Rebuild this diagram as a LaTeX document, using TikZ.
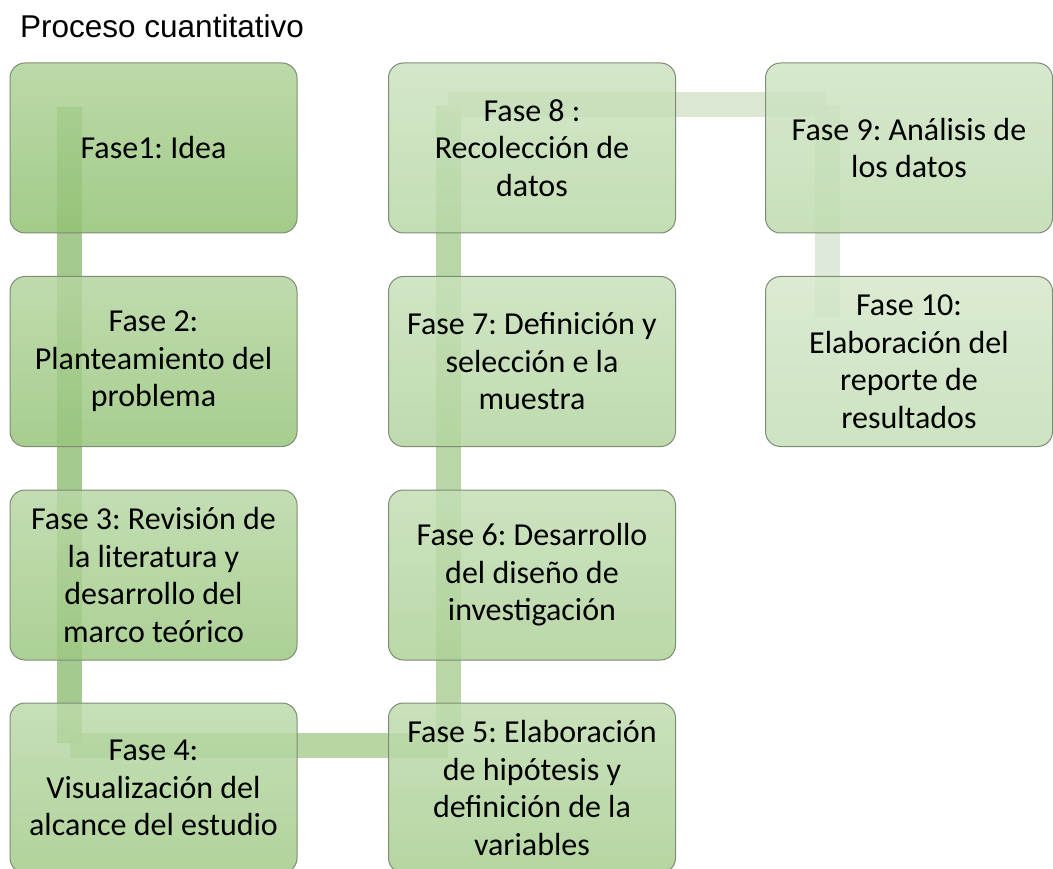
\documentclass[tikz,border=0pt]{standalone}
\usepackage{fontspec}
\setmainfont{Carlito}
\newfontfamily\titlefont{Liberation Sans}
\usetikzlibrary{calc,backgrounds}
\frenchspacing

\definecolor{faseA}{HTML}{92C274}
\definecolor{faseZ}{HTML}{C4DEB6}
\definecolor{borde}{HTML}{7E8C76}
\definecolor{barraA}{HTML}{7EB35F}
\definecolor{barraB}{HTML}{98C47E}
\definecolor{barraC}{HTML}{9BC581}
\definecolor{barraD}{HTML}{CCDDC0}
\definecolor{barraE}{HTML}{D1E0CA}

\tikzset{
  fase/.style={draw=borde, line width=1pt, rounded corners=15pt,
    minimum width=287pt, minimum height=170pt, inner sep=0pt, align=center,
    fill opacity=0.85, text opacity=1, font=\fontsize{32}{37.5}\selectfont,
    top color=#1!72!white, bottom color=#1},
  barra/.style={line width=25pt, opacity=0.7, draw=#1}
}

\begin{document}
\begin{tikzpicture}[x=1pt,y=-1pt]
    \clip (0,0) rectangle (1053,869);
    \node[anchor=base west, inner sep=0pt, font=\titlefont\fontsize{31.5}{36}\selectfont] (titulo) at (20,38) {Proceso cuantitativo};
    % fases
    \foreach \n/\px/\py/\txt in {
        1/153.5/148/{Fase1: Idea},
        2/153.5/361.5/{Fase 2:\\Planteamiento del\\problema},
        3/153.5/575/{Fase 3: Revisión de\\la literatura y\\desarrollo del\\marco teórico},
        4/153.5/788/{Fase 4:\\Visualización del\\alcance del estudio},
        5/532/788/{Fase 5: Elaboración\\de hipótesis y\\definición de la\\variables},
        6/532/575/{Fase 6: Desarrollo\\del diseño de\\investigación},
        7/532/361.5/{Fase 7: Definición y\\selección e la\\muestra},
        8/532/148/{Fase 8 :\\Recolección de\\datos},
        9/909/148/{Fase 9: Análisis de\\los datos},
        10/909/361.5/{Fase 10:\\Elaboración del\\reporte de\\resultados}} {
        \pgfmathtruncatemacro\pct{(\n-1)*100/9}
        \node[fase=faseZ!\pct!faseA] (f\n) at (\px,\py) {\txt};
    }
    % barras de union
    \begin{scope}[on background layer]
        \coordinate (a1) at ($(f1.center)+(-84,-41)$);
        \coordinate (a2) at ($(f4.center)+(-84,-45)$);
        \coordinate (b1) at ($(f4.center)+(-84,-42.5)$);
        \coordinate (b2) at ($(f5.center)+(-84,-42.5)$);
        \coordinate (c1) at ($(f5.center)+(-84,-46)$);
        \coordinate (c2) at ($(f8.center)+(-84,-43)$);
        \coordinate (d1) at ($(f8.center)+(-84,-43.5)$);
        \coordinate (d2) at ($(f9.center)+(-82,-43.5)$);
        \coordinate (e1) at ($(f9.center)+(-82,-43)$);
        \coordinate (e2) at ($(f10.center)+(-82,-44.5)$);
        \draw[barra=barraA] (a1) -- (a2);
        \draw[barra=barraB] (b1) -- (b2);
        \draw[barra=barraC] (c1) -- (c2);
        \draw[barra=barraD] (d1) -- (d2);
        \draw[barra=barraE] (e1) -- (e2);
    \end{scope}
\end{tikzpicture}
\end{document}
